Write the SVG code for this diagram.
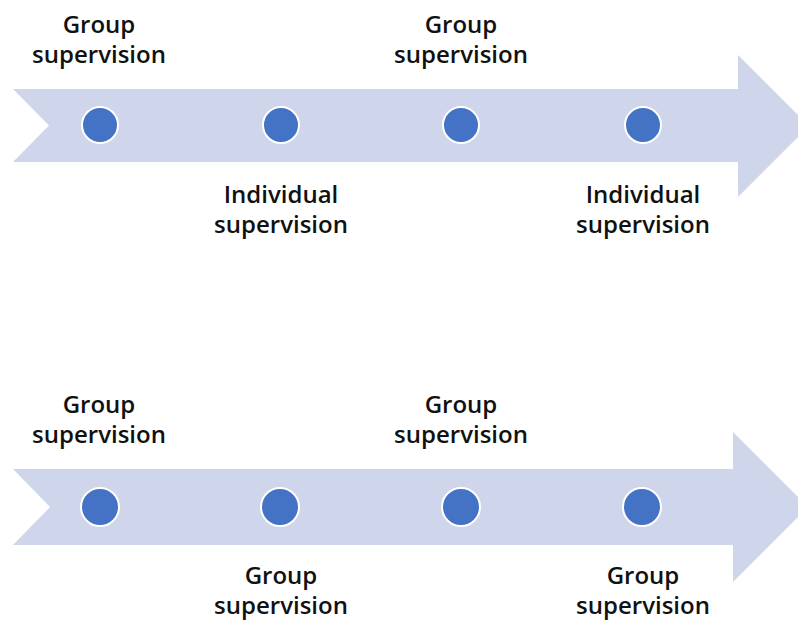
<svg xmlns="http://www.w3.org/2000/svg" width="798" height="624" viewBox="0 0 798 624">
<style>
.band{fill:#CFD5EA}
.dot{fill:#4472C4;stroke:#FFFFFF;stroke-width:2}
.lbl{font-family:"Open Sans","Noto Sans","Liberation Sans",sans-serif;font-weight:600;font-size:24px;fill:#111111;text-anchor:middle}
</style>
<rect width="798" height="624" fill="#FFFFFF"/>
<g id="connectors">
<path class="band" d="M13,89 L738,89 L738,55 L809,126 L738,197 L738,162 L13,162 L49,125.5 Z"/>
<path class="band" d="M13,469 L733,469 L733,432 L808,507 L733,582 L733,545 L13,545 L50,507 Z"/>
</g>
<g id="t1"><circle class="dot" cx="100" cy="125" r="18"/><text class="lbl" x="99"><tspan x="99" y="33">Group</tspan><tspan x="99" y="63">supervision</tspan></text></g>
<g id="t2"><circle class="dot" cx="281" cy="125" r="18"/><text class="lbl" x="281"><tspan x="281" y="203">Individual</tspan><tspan x="281" y="233">supervision</tspan></text></g>
<g id="t3"><circle class="dot" cx="461" cy="125" r="18"/><text class="lbl" x="461"><tspan x="461" y="33">Group</tspan><tspan x="461" y="63">supervision</tspan></text></g>
<g id="t4"><circle class="dot" cx="643" cy="125" r="18"/><text class="lbl" x="643"><tspan x="643" y="203">Individual</tspan><tspan x="643" y="233">supervision</tspan></text></g>
<g id="b1"><circle class="dot" cx="100" cy="507" r="19"/><text class="lbl" x="99"><tspan x="99" y="413">Group</tspan><tspan x="99" y="443">supervision</tspan></text></g>
<g id="b2"><circle class="dot" cx="280" cy="507" r="19"/><text class="lbl" x="281"><tspan x="281" y="584">Group</tspan><tspan x="281" y="614">supervision</tspan></text></g>
<g id="b3"><circle class="dot" cx="461" cy="507" r="19"/><text class="lbl" x="461"><tspan x="461" y="413">Group</tspan><tspan x="461" y="443">supervision</tspan></text></g>
<g id="b4"><circle class="dot" cx="642" cy="507" r="19"/><text class="lbl" x="643"><tspan x="643" y="584">Group</tspan><tspan x="643" y="614">supervision</tspan></text></g>
</svg>
